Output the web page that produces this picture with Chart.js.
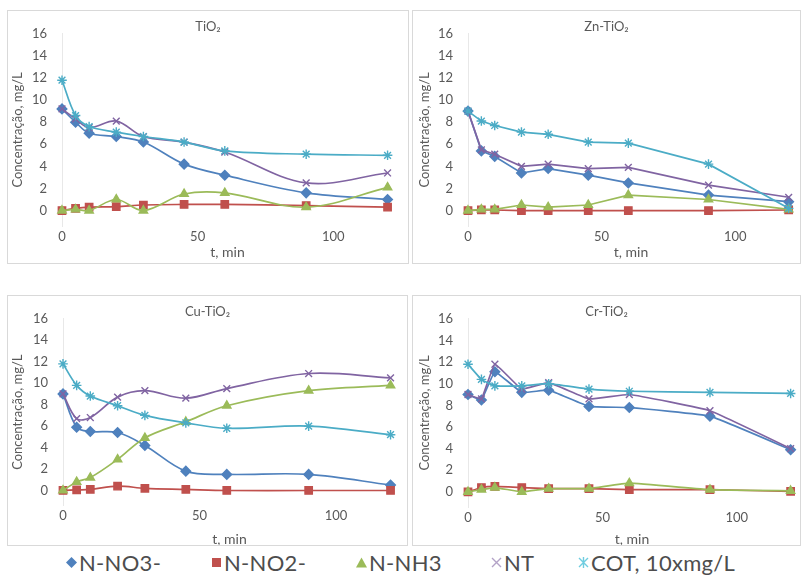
<!DOCTYPE html>
<html>
<head>
<meta charset="utf-8">
<script src="https://cdn.jsdelivr.net/npm/chart.js@4.4.1/dist/chart.umd.min.js"></script>
<style>
  body { margin: 0; background: #fff; width: 805px; height: 579px; position: relative; overflow: hidden; font-family: Lato, 'DejaVu Sans', sans-serif; }
  .panel { position: absolute; border: 1px solid #d9d9d9; box-sizing: border-box; background: #fff; }
  .panel canvas { position: absolute; left: 0; top: 0; }
  #legend { position: absolute; left: 0; top: 549px; width: 805px; height: 26px; font-size: 22px; color: #4d4d4d; letter-spacing: 0.3px; }
  .item { position: absolute; top: 0; height: 26px; display: flex; align-items: center; white-space: nowrap; }
  .item svg { margin-right: 1px; }
</style>
</head>
<body>
<div class="panel" id="p1" style="left:7px;top:10px;width:402px;height:254px"><canvas id="c1" width="400" height="252"></canvas></div>
<div class="panel" id="p2" style="left:412px;top:10px;width:389px;height:254px"><canvas id="c2" width="387" height="252"></canvas></div>
<div class="panel" id="p3" style="left:7px;top:295px;width:401px;height:251px"><canvas id="c3" width="399" height="249"></canvas></div>
<div class="panel" id="p4" style="left:412px;top:295px;width:389px;height:251px"><canvas id="c4" width="387" height="249"></canvas></div>
<div id="legend"></div>

<script>
// dados
const times = [0, 5, 10, 20, 30, 45, 60, 90, 120];
const xTicks = [0, 50, 100];
const yTicks = [0, 2, 4, 6, 8, 10, 12, 14, 16];
const seriesNames = ['N-NO3-', 'N-NO2-', 'N-NH3', 'NT', 'COT, 10xmg/L'];
const panelTitles = ['TiO₂', 'Zn-TiO₂', 'Cu-TiO₂', 'Cr-TiO₂'];

const tio2NO3 = [9.2, 8.0, 7.0, 6.7, 6.2, 4.2, 3.2, 1.6, 1.0];
const tio2NO2 = [0, 0.2, 0.3, 0.35, 0.5, 0.55, 0.55, 0.45, 0.3];
const tio2NH3 = [0, 0.1, 0, 1.0, 0, 1.5, 1.6, 0.3, 2.1];
const tio2NT  = [9.2, 8.3, 7.5, 8.1, 6.7, 6.2, 5.3, 2.5, 3.4];
const tio2COT = [11.8, 8.6, 7.6, 7.1, 6.7, 6.2, 5.4, 5.1, 5.0];

const znNO3 = [9.0, 5.4, 4.9, 3.4, 3.8, 3.2, 2.5, 1.4, 0.8];
const znNO2 = [0, 0.05, 0.05, 0, 0, 0, 0, 0, 0.05];
const znNH3 = [0, 0.1, 0.1, 0.5, 0.3, 0.5, 1.4, 1.0, 0.1];
const znNT  = [9.0, 5.5, 5.1, 4.0, 4.2, 3.8, 3.9, 2.3, 1.2];
const znCOT = [9.0, 8.1, 7.7, 7.1, 6.9, 6.2, 6.1, 4.2, 0.2];

const cuNO3 = [9.0, 5.9, 5.5, 5.4, 4.2, 1.8, 1.5, 1.5, 0.5];
const cuNO2 = [0, 0.05, 0.1, 0.4, 0.2, 0.1, 0, 0, 0];
const cuNH3 = [0, 0.8, 1.2, 2.9, 4.9, 6.4, 7.9, 9.3, 9.8];
const cuNT  = [9.0, 6.7, 6.8, 8.7, 9.3, 8.6, 9.5, 10.9, 10.5];
const cuCOT = [11.8, 9.8, 8.8, 7.9, 7.0, 6.3, 5.8, 6.0, 5.2];

const crNO3 = [9.0, 8.5, 11.1, 9.2, 9.4, 7.9, 7.8, 7.0, 3.9];
const crNO2 = [0, 0.4, 0.5, 0.4, 0.3, 0.3, 0.2, 0.2, 0.05];
const crNH3 = [0, 0.2, 0.4, 0, 0.3, 0.3, 0.8, 0.2, 0.1];
const crNT  = [9.0, 8.6, 11.8, 9.5, 10.1, 8.6, 9.0, 7.5, 4.0];
const crCOT = [11.8, 10.4, 9.8, 9.8, 10.0, 9.5, 9.3, 9.2, 9.1];

// estilos das séries (cores do Excel)
const seriesStyle = [
  { color: '#4F81BD', point: 'rectRot', r: 4.8 },
  { color: '#C0504D', point: 'rect', r: 5.2 },
  { color: '#9BBB59', point: 'triangle', r: 4.8 },
  { color: '#8064A2', point: 'crossRot', r: 4.8 },
  { color: '#4BACC6', point: 'star', r: 4.8 }
];

const textColor = '#595959';
const fontFamily = "Lato, 'DejaVu Sans', sans-serif";

// título dentro da área do gráfico, como no Excel
const panelTitle = {
  id: 'panelTitle',
  afterDraw(chart, args, opts) {
    const ctx = chart.ctx;
    ctx.save();
    ctx.font = '13px ' + fontFamily;
    ctx.fillStyle = textColor;
    ctx.textAlign = 'center';
    ctx.textBaseline = 'middle';
    ctx.fillText(opts.text, chart.width / 2, opts.y);
    ctx.restore();
  }
};

const panels = [
  { id: 'c1', series: [tio2NO3, tio2NO2, tio2NH3, tio2NT, tio2COT], left: 54, padR: 15, axisH: 37, xTitlePad: 2.6, yTitlePad: 2.2, tension: 0.35 },
  { id: 'c2', series: [znNO3, znNO2, znNH3, znNT, znCOT], left: 55, padR: 6, axisH: 37, xTitlePad: 2.6, yTitlePad: 4, tension: 0 },
  { id: 'c3', series: [cuNO3, cuNO2, cuNH3, cuNT, cuCOT], left: 55, padR: 11, axisH: 39.5, xTitlePad: -2.5, yTitlePad: 2.2, tension: 0.35 },
  { id: 'c4', series: [crNO3, crNO2, crNH3, crNT, crCOT], left: 55, padR: 4, axisH: 38, xTitlePad: -2.5, yTitlePad: 4, tension: 0.1 }
];

panels.forEach((p, pi) => {
  const datasets = p.series.map((vals, i) => ({
    label: seriesNames[i],
    data: times.map((t, k) => ({ x: t, y: vals[k] })),
    borderColor: seriesStyle[i].color,
    backgroundColor: seriesStyle[i].color,
    pointBorderColor: seriesStyle[i].color,
    pointBackgroundColor: seriesStyle[i].color,
    pointStyle: seriesStyle[i].point,
    pointRadius: seriesStyle[i].r,
    pointBorderWidth: 1.4,
    borderWidth: 1.7,
    tension: p.tension,
    order: 4 - i,
    clip: false
  }));

  new Chart(document.getElementById(p.id), {
    type: 'line',
    data: { datasets },
    plugins: [panelTitle],
    options: {
      responsive: false,
      animation: false,
      events: [],
      // o Chart.js ainda soma ~5.8px em cima (metade do rótulo "16")
      layout: { autoPadding: false, padding: { left: 0, right: p.padR, top: 11.2, bottom: 0 } },
      plugins: {
        legend: { display: false },
        tooltip: { enabled: false },
        title: { display: false },
        panelTitle: { text: panelTitles[pi], y: 16 }
      },
      scales: {
        x: {
          type: 'linear',
          min: 0,
          max: 122,
          grid: { display: false, drawTicks: false },
          border: { display: false },
          afterBuildTicks: (axis) => { axis.ticks = xTicks.map(v => ({ value: v })); },
          afterFit: (axis) => { axis.height = p.axisH; },
          ticks: { padding: 3, color: textColor, font: { family: fontFamily, size: 13 }, maxRotation: 0 },
          title: { display: true, text: 't, min', color: textColor, font: { family: fontFamily, size: 14 }, padding: { top: 0, bottom: p.xTitlePad } }
        },
        y: {
          min: -1.4,
          max: 16,
          grid: { display: false, drawTicks: false },
          border: { display: true, color: '#e8e8e8', width: 1 },
          afterBuildTicks: (axis) => { axis.ticks = yTicks.map(v => ({ value: v })); },
          afterFit: (axis) => { axis.width = p.left; },
          ticks: { padding: 15, color: textColor, font: { family: fontFamily, size: 13 } },
          title: { display: true, text: 'Concentração, mg/L', color: textColor, font: { family: fontFamily, size: 13 }, padding: { top: p.yTitlePad, bottom: 0 } }
        }
      }
    }
  });
});

// legenda comum
const legendLeft = [65, 210, 355, 490, 577];
const markerSvg = [
  '<svg width="13" height="13"><path d="M6.5 1 L12 6.5 L6.5 12 L1 6.5Z" fill="#4F81BD"/></svg>',
  '<svg width="13" height="13"><rect x="2" y="2" width="9" height="9" fill="#C0504D"/></svg>',
  '<svg width="13" height="13"><path d="M6.5 1.5 L12 11.5 L1 11.5Z" fill="#9BBB59"/></svg>',
  '<svg width="13" height="13"><path d="M2 2 L11 11 M11 2 L2 11" stroke="#B3A2C7" stroke-width="1.4"/></svg>',
  '<svg width="13" height="13"><path d="M2 2 L11 11 M11 2 L2 11 M6.5 1 L6.5 12" stroke="#6FCDE0" stroke-width="1.4"/></svg>'
];
const legendEl = document.getElementById('legend');
seriesNames.forEach((name, i) => {
  const item = document.createElement('span');
  item.className = 'item';
  item.style.left = legendLeft[i] + 'px';
  item.innerHTML = markerSvg[i];
  const txt = document.createElement('span');
  txt.textContent = name;
  item.appendChild(txt);
  legendEl.appendChild(item);
});
</script>
</body>
</html>
